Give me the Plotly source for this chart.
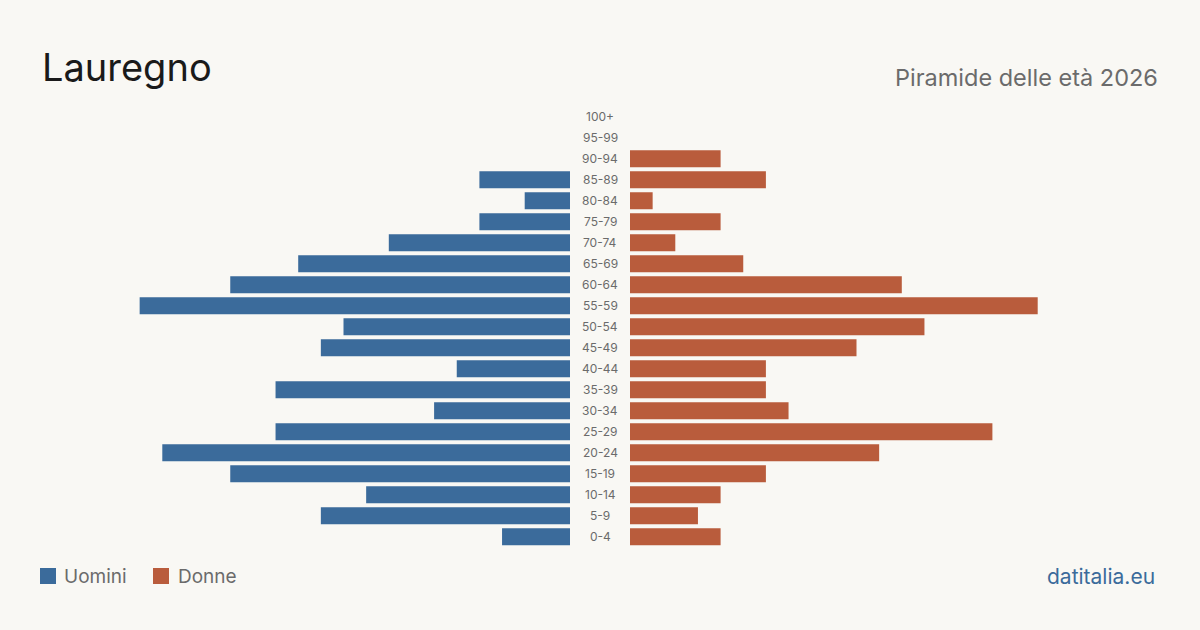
import plotly.graph_objects as go

ages = ["0-4", "5-9", "10-14", "15-19", "20-24", "25-29", "30-34", "35-39", "40-44",
        "45-49", "50-54", "55-59", "60-64", "65-69", "70-74", "75-79", "80-84",
        "85-89", "90-94", "95-99", "100+"]
uomini = [3, 11, 9, 15, 18, 13, 6, 13, 5, 11, 10, 19, 15, 12, 8, 4, 2, 4, 0, 0, 0]
donne = [4, 3, 4, 6, 11, 16, 7, 6, 6, 10, 13, 18, 12, 5, 2, 4, 1, 6, 4, 0, 0]

BLUE = "#3b6b9b"
ORANGE = "#b95c3c"
BG = "#f9f8f4"
FONT = "Inter, Roboto, sans-serif"

W, H = 1200, 630
unit = 22.65  # px per person
left_end = 570
right_start = 630

fig = go.Figure()
fig.add_trace(go.Bar(y=ages, x=uomini, orientation="h", marker_color=BLUE,
                     marker_line_width=0,
                     name="Uomini", xaxis="x", yaxis="y", showlegend=False,
                     hoverinfo="x+y"))
fig.add_trace(go.Bar(y=ages, x=donne, orientation="h", marker_color=ORANGE,
                     marker_line_width=0,
                     name="Donne", xaxis="x2", yaxis="y", showlegend=False,
                     hoverinfo="x+y"))

y_top = 106.3
y_bot = 547.3
ydom = [1 - y_bot / H, 1 - y_top / H]

annotations = []
for a in ages:
    annotations.append(dict(x=0.5, xref="paper", y=a, yref="y", text=a,
                            showarrow=False, xanchor="center", yanchor="middle",
                            font=dict(family=FONT, size=12, color="#6b6b6b")))

annotations += [
    dict(x=40 / W, y=1 - 67 / H, xref="paper", yref="paper", text="Lauregno",
         showarrow=False, xanchor="left", yanchor="middle",
         font=dict(family=FONT, size=38, color="#1a1a1a")),
    dict(x=1160 / W, y=1 - 77 / H, xref="paper", yref="paper", text="Piramide delle età 2026",
         showarrow=False, xanchor="right", yanchor="middle",
         font=dict(family=FONT, size=23.5, color="#6b6b6b")),
    dict(x=1157 / W, y=1 - 576 / H, xref="paper", yref="paper", text="datitalia.eu",
         showarrow=False, xanchor="right", yanchor="middle",
         font=dict(family=FONT, size=21, color=BLUE)),
    dict(x=62 / W, y=1 - 576 / H, xref="paper", yref="paper", text="Uomini",
         showarrow=False, xanchor="left", yanchor="middle",
         font=dict(family=FONT, size=19, color="#6b6b6b")),
    dict(x=176 / W, y=1 - 576 / H, xref="paper", yref="paper", text="Donne",
         showarrow=False, xanchor="left", yanchor="middle",
         font=dict(family=FONT, size=19, color="#6b6b6b")),
]

shapes = [
    dict(type="rect", xref="paper", yref="paper", x0=40 / W, x1=56 / W,
         y0=1 - 584 / H, y1=1 - 568 / H, fillcolor=BLUE, line=dict(width=0)),
    dict(type="rect", xref="paper", yref="paper", x0=153 / W, x1=169 / W,
         y0=1 - 584 / H, y1=1 - 568 / H, fillcolor=ORANGE, line=dict(width=0)),
]

fig.update_layout(
    width=W, height=H,
    margin=dict(l=0, r=0, t=0, b=0),
    paper_bgcolor=BG, plot_bgcolor=BG,
    bargap=0.19,
    showlegend=False,
    xaxis=dict(domain=[0, left_end / W], range=[left_end / unit, 0],
               visible=False, showgrid=False, zeroline=False, fixedrange=True),
    xaxis2=dict(domain=[right_start / W, 1], range=[0, (W - right_start) / unit],
                visible=False, showgrid=False, zeroline=False, fixedrange=True),
    yaxis=dict(domain=ydom, categoryorder="array", categoryarray=ages,
               range=[-0.5, len(ages) - 0.5], visible=False, showgrid=False,
               zeroline=False, fixedrange=True),
    annotations=annotations,
    shapes=shapes,
)

fig.write_html("out.html")
